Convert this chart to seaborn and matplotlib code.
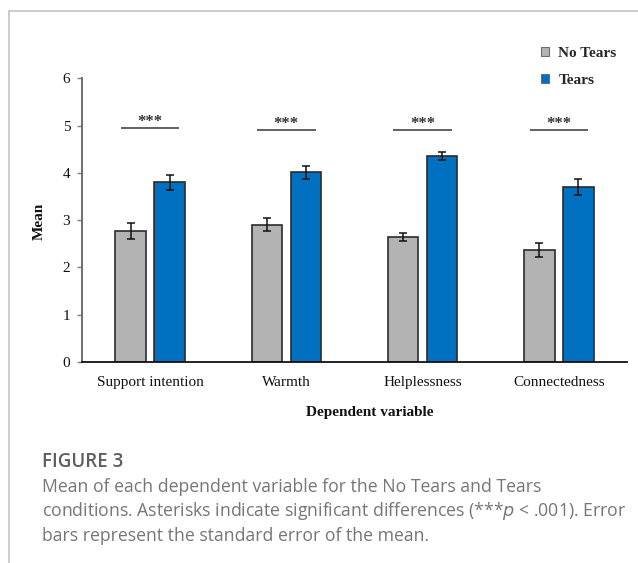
import numpy as np
import pandas as pd
import seaborn as sns
import matplotlib
matplotlib.use("Agg")
import matplotlib.pyplot as plt
from matplotlib.lines import Line2D

# ---- data ----
categories = ["Support intention", "Warmth", "Helplessness", "Connectedness"]
conditions = ["No Tears", "Tears"]
no_tears_mean = [2.78, 2.90, 2.64, 2.37]
tears_mean = [3.80, 4.01, 4.36, 3.70]
no_tears_se = [0.17, 0.14, 0.09, 0.14]
tears_se = [0.16, 0.13, 0.09, 0.17]
sig_labels = ["***", "***", "***", "***"]
sig_level = [4.95, 4.91, 4.91, 4.91]
y_ticks = [0, 1, 2, 3, 4, 5, 6]

df = pd.DataFrame({
    "Dependent variable": categories * 2,
    "Condition": [conditions[0]] * 4 + [conditions[1]] * 4,
    "Mean": no_tears_mean + tears_mean,
    "SE": no_tears_se + tears_se,
})

sns.set_theme(style="white")
plt.rcParams["font.family"] = ["Liberation Serif", "DejaVu Serif"]

fig = plt.figure(figsize=(6.38, 5.63), dpi=100)
ax = fig.add_axes([82 / 638, 1 - 362 / 563, (627 - 82) / 638, (362 - 78.3) / 563])

palette = {"No Tears": "#b3b3b3", "Tears": "#0070c0"}
sns.barplot(data=df, x="Dependent variable", y="Mean", hue="Condition",
            hue_order=conditions, order=categories, palette=palette,
            width=0.572, gap=0.22, errorbar=None, ax=ax,
            edgecolor="#2b2b2b", linewidth=1.2, saturation=1)

# error bars at bar centers
for cont, cond in zip(ax.containers, conditions):
    sub = df[df["Condition"] == cond].set_index("Dependent variable").loc[categories]
    xs = [p.get_x() + p.get_width() / 2 for p in cont.patches]
    ax.errorbar(xs, sub["Mean"].values, yerr=sub["SE"].values, fmt="none",
                ecolor="#111111", elinewidth=1.1, capsize=3.2, capthick=1.1, zorder=5)

# significance lines
for i, (lab, lev) in enumerate(zip(sig_labels, sig_level)):
    ax.plot([i - 0.215, i + 0.215], [lev, lev], color="#555555", lw=1.3, solid_capstyle="butt")
    ax.text(i, lev - 0.04, lab, ha="center", va="bottom", fontsize=12,
            fontweight="bold", color="#333333")

ax.set_ylim(0, 6)
ax.set_xlim(-0.5, 3.5)
ax.set_yticks(y_ticks)
ax.tick_params(axis="y", which="both", left=True, length=3.5, width=1, color="#7f7f7f",
               labelsize=11, pad=5, labelcolor="#111111")
ax.tick_params(axis="x", bottom=False, labelsize=11, pad=4, labelcolor="#111111")
for s in ["top", "right"]:
    ax.spines[s].set_visible(False)
ax.spines["left"].set_color("#6f6f6f")
ax.spines["left"].set_linewidth(1.4)
ax.spines["bottom"].set_color("#111111")
ax.spines["bottom"].set_linewidth(1.3)

ax.set_xlabel("Dependent variable", fontsize=11, fontweight="bold", color="#111111")
ax.set_ylabel("Mean", fontsize=11, fontweight="bold", color="#111111")
ax.xaxis.set_label_coords(0.528, -0.155)
ax.yaxis.set_label_coords(-0.066, 0.495)

# legend
handles, labels = ax.get_legend_handles_labels()
ax.get_legend().remove()
leg = fig.legend(handles, labels, loc="upper left", bbox_to_anchor=(527 / 638, 1 - 33 / 563),
                 frameon=False, handlelength=0.55, handleheight=0.55, handletextpad=0.6,
                 labelspacing=0.9, prop={"family": "Liberation Serif", "weight": "bold", "size": 11})
for h in leg.legend_handles:
    h.set_linewidth(0.8)
    h.set_edgecolor("#6f6f6f")

# frame lines
fig.add_artist(Line2D([9 / 638, 1], [1 - 11 / 563, 1 - 11 / 563], color="#c4c4c4", lw=1.2))
fig.add_artist(Line2D([9 / 638, 9 / 638], [0, 1 - 11 / 563], color="#c4c4c4", lw=1.2))

# caption
fig.text(42 / 638, 1 - 466.7 / 563, "FIGURE 3", family=["Open Sans", "DejaVu Sans"],
         fontsize=13.5, fontweight="semibold", color="#5e5e5e", ha="left", va="baseline")
cap_lines = [
    "Mean of each dependent variable for the No Tears and Tears",
    "conditions. Asterisks indicate significant differences (***$\\it{p}$ < .001). Error",
    "bars represent the standard error of the mean.",
]
for k, line in enumerate(cap_lines):
    fig.text(42 / 638, 1 - (491.7 + 24.5 * k) / 563, line, family=["Open Sans", "DejaVu Sans"],
             fontsize=12.7, color="#767676", ha="left", va="baseline")

fig.savefig("out.png", dpi=100)
